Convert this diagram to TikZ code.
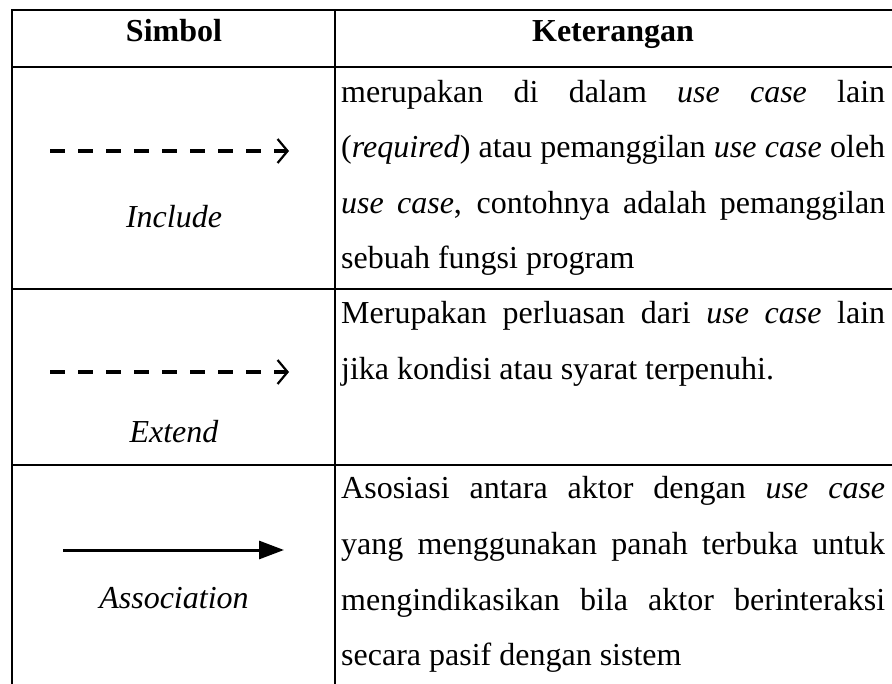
\documentclass[tikz,border=0pt]{standalone}
\usepackage{fontspec}
\setmainfont{Liberation Serif}
\usetikzlibrary{arrows.meta}
\newcommand{\jl}[1]{\makebox[544pt][s]{#1}}
\tikzset{
  rule/.style={line width=2.4pt, line cap=rect},
  txt/.style={anchor=base west, inner sep=0pt, font=\fontsize{32}{40}\selectfont},
  lbl/.style={anchor=base, inner sep=0pt, font=\fontsize{32}{40}\selectfont\itshape},
  hdr/.style={anchor=base, inner sep=0pt, font=\fontsize{32}{40}\selectfont\bfseries},
  dasharrow/.style={line width=4.5pt, dash pattern=on 15pt off 13pt,
    -{Straight Barb[length=10pt,width=24pt,line width=2.2pt]}},
  solidarrow/.style={line width=3pt, -{Triangle[length=25pt,width=18pt]}}
}
\begin{document}
\begin{tikzpicture}[x=1pt,y=-1pt]
\useasboundingbox (0,0) rectangle (892,684);
% grid
\draw[rule] (12,684) -- (12,10) -- (892,10);
\draw[rule] (335,10) -- (335,684);
\draw[rule] (12,67) -- (892,67);
\draw[rule] (12,289) -- (892,289);
\draw[rule] (12,465) -- (892,465);
% header
\node[hdr] (h1) at (174,42) {Simbol};
\node[hdr] (h2) at (613,42) {Keterangan};
% row 1
\coordinate (inc-s) at (50,151);
\coordinate (inc-e) at (289,151);
\draw[dasharrow] (inc-s) -- (inc-e);
\node[lbl] (inc) at (174,228) {Include};
\node[txt] (r1a) at (341,102.5) {\jl{merupakan di dalam \textit{use case} lain}};
\node[txt] (r1b) at (341,158) {\jl{(\textit{required}) atau pemanggilan \textit{use case} oleh}};
\node[txt] (r1c) at (341,213.5) {\jl{\textit{use case}, contohnya adalah pemanggilan}};
\node[txt] (r1d) at (341,269) {sebuah fungsi program};
% row 2
\coordinate (ext-s) at (50,372);
\coordinate (ext-e) at (289,372);
\draw[dasharrow] (ext-s) -- (ext-e);
\node[lbl] (ext) at (174,443) {Extend};
\node[txt] (r2a) at (341,324) {\jl{Merupakan perluasan dari \textit{use case} lain}};
\node[txt] (r2b) at (341,379.5) {jika kondisi atau syarat terpenuhi.};
% row 3
\coordinate (asc-s) at (63,550);
\coordinate (asc-e) at (284,550);
\draw[solidarrow] (asc-s) -- (asc-e);
\node[lbl] (asc) at (174,608) {Association};
\node[txt] (r3a) at (341,498) {\jl{Asosiasi antara aktor dengan \textit{use case}}};
\node[txt] (r3b) at (341,554) {\jl{yang menggunakan panah terbuka untuk}};
\node[txt] (r3c) at (341,610) {\jl{mengindikasikan bila aktor berinteraksi}};
\node[txt] (r3d) at (341,665) {secara pasif dengan sistem};
\end{tikzpicture}
\end{document}
